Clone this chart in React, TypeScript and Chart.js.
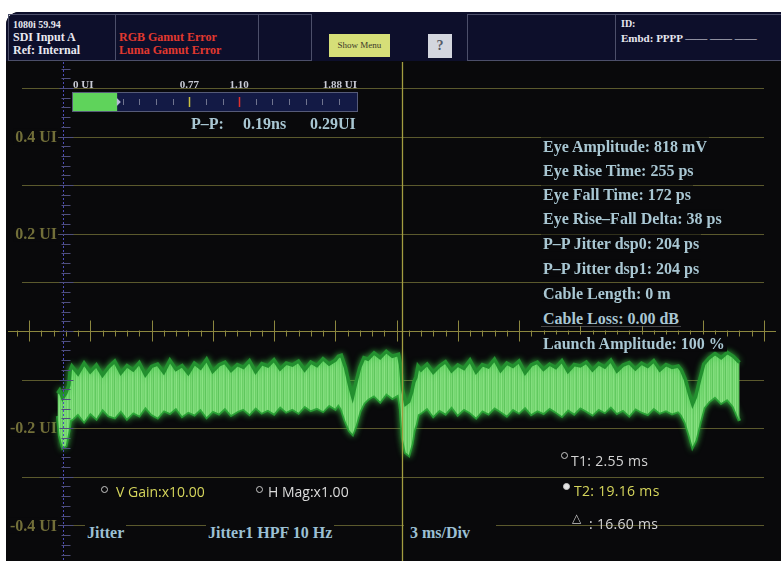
import React, { useEffect, useRef } from "react";
import { Chart, registerables } from "chart.js";

Chart.register(...registerables);

// ---------- data ----------
// time in ms, jitter in UI
const timeMs = [
  2.3, 2.4, 2.55, 2.7, 2.85, 2.92,
  3.0, 3.3, 3.6, 3.9, 4.2, 4.5, 4.8, 5.1, 5.4, 5.7, 6.0, 6.3, 6.6, 6.9, 7.2, 7.5, 7.8, 8.1, 8.4, 8.7, 9.0, 9.3,
  9.6, 9.9, 10.2, 10.5, 10.8, 11.1, 11.4, 11.7, 12.0, 12.3, 12.6, 12.9, 13.2, 13.5, 13.8, 14.1, 14.4, 14.7, 15.0,
  15.3, 15.6, 15.9,
  16.05, 16.2, 16.4, 16.6, 16.75, 16.9, 17.1, 17.3,
  17.5, 17.8, 18.1, 18.4, 18.7, 19.0,
  19.1, 19.2, 19.35, 19.5, 19.65, 19.75, 19.85, 19.95,
  20.1, 20.4, 20.7, 21.0, 21.3, 21.6, 21.9, 22.2, 22.5, 22.8, 23.1, 23.4, 23.7, 24.0, 24.3, 24.6, 24.9, 25.2,
  25.5, 25.8, 26.1, 26.4, 26.7, 27.0, 27.3, 27.6, 27.9, 28.2, 28.5, 28.8, 29.1, 29.4, 29.7, 30.0, 30.3, 30.6,
  30.9, 31.2, 31.5, 31.8, 32.1, 32.4, 32.7,
  32.85, 33.05, 33.25, 33.4, 33.55, 33.75, 33.95,
  34.2, 34.5, 34.8, 35.1, 35.4, 35.7,
];

const upperUI = [
  -0.128, -0.122, -0.138, -0.128, -0.112, -0.08,
  -0.072, -0.088, -0.066, -0.084, -0.07, -0.091, -0.074, -0.062, -0.086, -0.071,
  -0.08, -0.065, -0.09, -0.073, -0.068, -0.085, -0.06, -0.079, -0.071, -0.087,
  -0.066, -0.076, -0.058, -0.083, -0.07, -0.064, -0.081, -0.069, -0.075, -0.061,
  -0.084, -0.067, -0.072, -0.059, -0.078, -0.066, -0.07, -0.062, -0.08, -0.064,
  -0.071, -0.057, -0.068, -0.06,
  -0.052, -0.05, -0.075, -0.112, -0.135, -0.108, -0.075, -0.055,
  -0.058, -0.045, -0.055, -0.042, -0.052, -0.048,
  -0.07, -0.12, -0.15, -0.145, -0.125, -0.105, -0.095, -0.072,
  -0.08, -0.068, -0.085, -0.072, -0.063, -0.082, -0.07, -0.077, -0.06, -0.084,
  -0.069, -0.074, -0.058, -0.081, -0.066, -0.073, -0.062, -0.086, -0.07, -0.064,
  -0.079, -0.068, -0.075, -0.061, -0.083, -0.069, -0.072, -0.064, -0.08, -0.067,
  -0.074, -0.06, -0.082, -0.07, -0.065, -0.078, -0.066, -0.073, -0.061, -0.08,
  -0.069, -0.075, -0.072,
  -0.08, -0.1, -0.13, -0.15, -0.135, -0.1, -0.068,
  -0.056, -0.046, -0.055, -0.044, -0.052, -0.065,
];

const lowerUI = [
  -0.175, -0.215, -0.24, -0.236, -0.205, -0.182,
  -0.182, -0.17, -0.186, -0.168, -0.18, -0.16, -0.174, -0.178, -0.163, -0.18,
  -0.167, -0.174, -0.156, -0.171, -0.178, -0.163, -0.169, -0.158, -0.175, -0.166,
  -0.172, -0.16, -0.177, -0.164, -0.17, -0.158, -0.173, -0.165, -0.16, -0.171,
  -0.157, -0.168, -0.162, -0.17, -0.155, -0.166, -0.16, -0.168, -0.154, -0.163,
  -0.158, -0.165, -0.152, -0.16,
  -0.15, -0.16, -0.185, -0.205, -0.212, -0.195, -0.165, -0.148,
  -0.14, -0.132, -0.145, -0.128, -0.138, -0.13,
  -0.16, -0.22, -0.25, -0.255, -0.232, -0.205, -0.192, -0.172,
  -0.168, -0.158, -0.175, -0.162, -0.17, -0.155, -0.172, -0.16, -0.167, -0.178,
  -0.163, -0.17, -0.157, -0.165, -0.174, -0.16, -0.168, -0.156, -0.171, -0.163,
  -0.169, -0.158, -0.166, -0.175, -0.161, -0.17, -0.157, -0.164, -0.172, -0.16,
  -0.167, -0.155, -0.169, -0.162, -0.174, -0.159, -0.166, -0.171, -0.158, -0.168,
  -0.163, -0.17, -0.165,
  -0.172, -0.188, -0.215, -0.238, -0.225, -0.19, -0.158,
  -0.145, -0.135, -0.148, -0.14, -0.155, -0.185,
];

const gridUI = [0.5, 0.4, 0.3, 0.2, 0.1, -0.1, -0.2, -0.3, -0.4];
const yTickValues = [0.4, 0.2, -0.2, -0.4];
const yTickLabels = ["0.4 UI", "0.2 UI", "-0.2 UI", "-0.4 UI"];

const xMinMs = 0.9;
const xMaxMs = 36.9;
const msPerDiv = 3;
const minorPerDiv = 5;
const cursorT1 = 2.55;
const cursorT2 = 19.16;

const meterMax = 1.88;
const meterValue = 0.29;
const meterTicks = [0.33, 0.44, 0.55, 0.66, 0.88, 0.99, 1.21, 1.32, 1.43, 1.54, 1.65, 1.76];
const meterMarkWarn = 0.77;
const meterMarkErr = 1.1;
const meterLabels = ["0 UI", "0.77", "1.10", "1.88 UI"];

const measureLabels = [
  "Eye Amplitude: 818 mV",
  "Eye Rise Time: 255 ps",
  "Eye Fall Time: 172 ps",
  "Eye Rise\u2013Fall Delta: 38 ps",
  "P\u2013P Jitter dsp0: 204 ps",
  "P\u2013P Jitter dsp1: 204 ps",
  "Cable Length: 0 m",
  "Cable Loss: 0.00 dB",
  "Launch Amplitude: 100 %",
];

// ---------- styles ----------
const SERIF = '"Liberation Serif", "Times New Roman", serif';
const SANS = '"Open Sans", "Noto Sans", sans-serif';
const PANEL_BG = "#09090b";
const TEXT_BLUE = "#a9c7d3";
// phosphor texture colours for the trace fill (style only)
const STRIPES = [
  "#7ad975", "#6fd26b", "#86e081", "#74d670", "#62c960", "#80dc7b", "#71d46d",
  "#8ae384", "#6acf66", "#7bd976", "#5fc65d", "#83de7e", "#76d772",
];

const txt = (left: number, cy: number, extra: React.CSSProperties = {}): React.CSSProperties => ({
  position: "absolute",
  left,
  top: cy,
  transform: "translateY(-50%)",
  whiteSpace: "nowrap",
  lineHeight: 1,
  ...extra,
});

const makeStripePattern = (): CanvasPattern | string => {
  const c = document.createElement("canvas");
  c.width = STRIPES.length;
  c.height = 4;
  const g = c.getContext("2d");
  if (!g) return STRIPES[0];
  STRIPES.forEach((col, i) => {
    g.fillStyle = col;
    g.fillRect(i, 0, 1, 4);
  });
  return g.createPattern(c, "repeat") || STRIPES[0];
};

const scopePlugin = {
  id: "scope",
  beforeDatasetsDraw(chart: any) {
    const { ctx, scales } = chart;
    const x = scales.x;
    const y = scales.y;
    ctx.save();
    ctx.lineWidth = 1;
    // horizontal graticule
    ctx.strokeStyle = "#5b592d";
    gridUI.forEach((v) => {
      const py = Math.round(y.getPixelForValue(v)) + 0.5;
      ctx.beginPath();
      ctx.moveTo(x.left - 7, py);
      ctx.lineTo(x.right, py);
      ctx.stroke();
    });
    // zero line with time ticks
    const y0 = Math.round(y.getPixelForValue(0)) + 0.5;
    ctx.strokeStyle = "#8c873f";
    ctx.beginPath();
    ctx.moveTo(8, y0);
    ctx.lineTo(x.right + 12, y0);
    ctx.stroke();
    const minorStep = msPerDiv / minorPerDiv;
    for (let k = -3; k <= 63; k++) {
      const px = Math.round(x.getPixelForValue(xMinMs + k * minorStep)) + 0.5;
      if (px < 8 || px > x.right + 12) continue;
      ctx.beginPath();
      if (k % minorPerDiv === 0) {
        ctx.moveTo(px, y0 - 11);
        ctx.lineTo(px, y0 + 10);
      } else {
        ctx.moveTo(px, y0 - 1);
        ctx.lineTo(px, y0 + 5);
      }
      ctx.stroke();
    }
    // y tick labels
    ctx.font = `bold 16px ${SERIF}`;
    ctx.textAlign = "right";
    ctx.textBaseline = "middle";
    yTickValues.forEach((v, i) => {
      const py = y.getPixelForValue(v);
      const w = ctx.measureText(yTickLabels[i]).width;
      ctx.fillStyle = PANEL_BG;
      ctx.fillRect(57 - w - 2, py - 8, w + 3, 16);
      ctx.fillStyle = "#726f39";
      ctx.fillText(yTickLabels[i], 57, py + 1);
    });
    ctx.restore();
    // glow for the waveform
    ctx.save();
    ctx.shadowColor = "rgba(60, 200, 70, 0.75)";
    ctx.shadowBlur = 6;
  },
  afterDatasetsDraw(chart: any) {
    const { ctx, scales } = chart;
    const x = scales.x;
    const y = scales.y;
    ctx.restore();
    ctx.save();
    // T1 cursor (dotted blue) with vertical scale ticks
    const p1 = Math.round(x.getPixelForValue(cursorT1)) + 0.5;
    ctx.strokeStyle = "#4b4bb8";
    ctx.lineWidth = 1;
    ctx.setLineDash([2, 2]);
    ctx.beginPath();
    ctx.moveTo(p1, 62);
    ctx.lineTo(p1, 561);
    ctx.stroke();
    ctx.setLineDash([]);
    ctx.strokeStyle = "#4f4f7c";
    for (let i = -24; i <= 27; i++) {
      const py = Math.round(y.getPixelForValue(i * 0.02)) + 0.5;
      if (py < 64 || py > 561) continue;
      ctx.beginPath();
      if (i % 5 === 0) {
        ctx.moveTo(p1 - 4, py);
        ctx.lineTo(p1 + 10, py);
      } else {
        ctx.moveTo(p1 - 2, py);
        ctx.lineTo(p1 + 7, py);
      }
      ctx.stroke();
    }
    // T2 cursor (active, yellow)
    const p2 = Math.round(x.getPixelForValue(cursorT2)) + 0.5;
    ctx.strokeStyle = "#a29d40";
    ctx.lineWidth = 1.3;
    ctx.beginPath();
    ctx.moveTo(p2, 62);
    ctx.lineTo(p2, 561);
    ctx.stroke();
    ctx.restore();
  },
};

const meterPlugin = {
  id: "meterTicks",
  afterDatasetsDraw(chart: any) {
    const { ctx, scales } = chart;
    const x = scales.x;
    const h = chart.height;
    ctx.save();
    ctx.lineWidth = 1;
    ctx.strokeStyle = "#70748f";
    meterTicks.forEach((v) => {
      const px = Math.round(x.getPixelForValue(v)) + 0.5;
      ctx.beginPath();
      ctx.moveTo(px, h / 2 - 3);
      ctx.lineTo(px, h / 2 + 3);
      ctx.stroke();
    });
    const mark = (v: number, c: string) => {
      const px = Math.round(x.getPixelForValue(v)) + 0.5;
      ctx.strokeStyle = c;
      ctx.lineWidth = 1.5;
      ctx.beginPath();
      ctx.moveTo(px, h / 2 - 5);
      ctx.lineTo(px, h / 2 + 5);
      ctx.stroke();
    };
    mark(meterMarkWarn, "#c9c040");
    mark(meterMarkErr, "#e0302c");
    const pe = x.getPixelForValue(meterValue);
    ctx.fillStyle = "#b8b8d8";
    ctx.beginPath();
    ctx.moveTo(pe, h / 2 - 4);
    ctx.lineTo(pe + 4, h / 2);
    ctx.lineTo(pe, h / 2 + 4);
    ctx.closePath();
    ctx.fill();
    ctx.restore();
  },
};

const METER_L = 73;
const METER_W = 284;
const meterPx = (v: number) => METER_L + (v / meterMax) * METER_W;

export default function App() {
  const mainRef = useRef<HTMLCanvasElement>(null);
  const meterRef = useRef<HTMLCanvasElement>(null);

  useEffect(() => {
    const pts = (ys: number[]) => timeMs.map((t, i) => ({ x: t, y: ys[i] }));
    const stripe = makeStripePattern();
    const main = new Chart(mainRef.current as HTMLCanvasElement, {
      type: "line",
      data: {
        datasets: [
          {
            label: "upper",
            data: pts(upperUI),
            fill: "+1",
            backgroundColor: stripe,
            borderColor: "#23902f",
            borderWidth: 3.5,
            pointRadius: 0,
            tension: 0,
          },
          {
            label: "lower",
            data: pts(lowerUI),
            fill: false,
            borderColor: "#23902f",
            borderWidth: 3.5,
            pointRadius: 0,
            tension: 0,
          },
        ],
      },
      options: {
        responsive: false,
        animation: false,
        events: [],
        layout: { padding: { left: 29, right: 17, top: 88, bottom: 0 } },
        plugins: { legend: { display: false }, tooltip: { enabled: false } },
        scales: {
          x: { type: "linear", min: xMinMs, max: xMaxMs, display: false },
          y: { type: "linear", min: -0.4733, max: 0.5, display: false },
        },
      },
      plugins: [scopePlugin],
    } as any);

    const meter = new Chart(meterRef.current as HTMLCanvasElement, {
      type: "bar",
      data: {
        labels: ["P-P"],
        datasets: [
          {
            data: [meterValue],
            backgroundColor: "#5fd35b",
            borderWidth: 0,
            barPercentage: 1,
            categoryPercentage: 1,
          },
        ],
      },
      options: {
        indexAxis: "y",
        responsive: false,
        animation: false,
        events: [],
        layout: { padding: 0 },
        plugins: { legend: { display: false }, tooltip: { enabled: false } },
        scales: {
          x: { type: "linear", min: 0, max: meterMax, display: false },
          y: { display: false },
        },
      },
      plugins: [meterPlugin],
    } as any);

    return () => {
      main.destroy();
      meter.destroy();
    };
  }, []);

  const cell = (left: number, width: number): React.CSSProperties => ({
    position: "absolute",
    left,
    top: 14,
    width,
    height: 47,
    border: "1px solid #4c4f6a",
    boxSizing: "border-box",
  });

  const whiteHdr: React.CSSProperties = { color: "#e8e8f0", fontFamily: SERIF, fontWeight: "bold" };
  const measureY = [146, 170, 194, 218, 243, 268, 293, 318, 343];
  const circle = (cx: number, cy: number, filled: boolean): React.CSSProperties => ({
    position: "absolute",
    left: cx - 3.5,
    top: cy - 3.5,
    width: 7,
    height: 7,
    borderRadius: "50%",
    boxSizing: "border-box",
    border: "1.3px solid #c8c8c8",
    background: filled ? "#e4e4e4" : "transparent",
  });

  return (
    <div
      style={{
        position: "absolute",
        left: 0,
        top: 0,
        width: 781,
        height: 561,
        background: "#ffffff",
        overflow: "hidden",
      }}
    >
      {/* instrument panel */}
      <div
        style={{
          position: "absolute",
          left: 6,
          top: 12,
          width: 800,
          height: 580,
          background: PANEL_BG,
          borderRadius: 13,
        }}
      />
      <div
        style={{
          position: "absolute",
          left: 6,
          top: 12,
          width: 800,
          height: 49,
          background: "#0d0f2b",
          borderRadius: "13px 13px 0 0",
        }}
      />
      <div style={cell(8, 108)} />
      <div style={cell(115, 144)} />
      <div style={cell(258, 54)} />
      <div style={cell(467, 149)} />
      <div style={cell(615, 180)} />

      <div style={txt(13, 25, { ...whiteHdr, fontSize: 10 })}>1080i 59.94</div>
      <div style={txt(13, 37, { ...whiteHdr, fontSize: 12 })}>SDI Input A</div>
      <div style={txt(13, 50, { ...whiteHdr, fontSize: 12 })}>Ref: Internal</div>
      <div style={txt(119, 37, { color: "#e2392f", fontFamily: SERIF, fontWeight: "bold", fontSize: 12 })}>
        RGB Gamut Error
      </div>
      <div style={txt(119, 50, { color: "#e2392f", fontFamily: SERIF, fontWeight: "bold", fontSize: 12 })}>
        Luma Gamut Error
      </div>
      <div
        style={{
          position: "absolute",
          left: 329,
          top: 34,
          width: 61,
          height: 23,
          background: "#d6df78",
          color: "#3a3a2a",
          fontFamily: SERIF,
          fontSize: 9,
          lineHeight: "23px",
          textAlign: "center",
        }}
      >
        Show Menu
      </div>
      <div
        style={{
          position: "absolute",
          left: 428,
          top: 34,
          width: 24,
          height: 24,
          background: "#d3d6de",
          color: "#555a66",
          fontFamily: SERIF,
          fontWeight: "bold",
          fontSize: 14,
          lineHeight: "24px",
          textAlign: "center",
        }}
      >
        ?
      </div>
      <div style={txt(621, 24, { ...whiteHdr, fontSize: 10 })}>ID:</div>
      <div style={txt(621, 38, { ...whiteHdr, fontSize: 11 })}>
        Embd: PPPP &mdash;&mdash; &mdash;&mdash; &mdash;&mdash;
      </div>

      {/* main scope canvas */}
      <canvas
        ref={mainRef}
        width={781}
        height={561}
        style={{ position: "absolute", left: 0, top: 0, width: 781, height: 561 }}
      />

      {/* jitter meter */}
      <div
        style={{
          position: "absolute",
          left: 72,
          top: 92,
          width: 286,
          height: 20,
          background: "#131a45",
          border: "1px solid #565b78",
          boxSizing: "border-box",
        }}
      />
      <canvas
        ref={meterRef}
        width={METER_W}
        height={18}
        style={{ position: "absolute", left: METER_L, top: 93, width: METER_W, height: 18 }}
      />
      {[0, meterMarkWarn, meterMarkErr, meterMax].map((v, i) => {
        const base: React.CSSProperties = {
          color: "#c9cbd6",
          fontFamily: SERIF,
          fontWeight: "bold",
          fontSize: 11,
        };
        if (i === 0) return <div key={i} style={txt(meterPx(v), 84, base)}>{meterLabels[i]}</div>;
        if (i === 3)
          return (
            <div key={i} style={txt(meterPx(v), 84, { ...base, transform: "translate(-100%, -50%)" })}>
              {meterLabels[i]}
            </div>
          );
        return (
          <div key={i} style={txt(meterPx(v), 84, { ...base, transform: "translate(-50%, -50%)" })}>
            {meterLabels[i]}
          </div>
        );
      })}
      <div style={txt(191, 124, { color: TEXT_BLUE, fontFamily: SERIF, fontWeight: "bold", fontSize: 16 })}>
        P&ndash;P:
      </div>
      <div style={txt(243, 124, { color: TEXT_BLUE, fontFamily: SERIF, fontWeight: "bold", fontSize: 16 })}>
        0.19ns
      </div>
      <div style={txt(310, 124, { color: TEXT_BLUE, fontFamily: SERIF, fontWeight: "bold", fontSize: 16 })}>
        0.29UI
      </div>

      {/* measurements */}
      {measureLabels.map((s, i) => (
        <div
          key={s}
          style={txt(541, measureY[i], {
            color: TEXT_BLUE,
            fontFamily: SERIF,
            fontWeight: "bold",
            fontSize: 16,
            lineHeight: "17px",
            background: PANEL_BG,
            padding: "0 2px",
          })}
        >
          {s}
        </div>
      ))}

      {/* gain / mag */}
      <div style={circle(104, 489, false)} />
      <div style={txt(116, 492, { color: "#d6d65c", fontFamily: SANS, fontSize: 14 })}>V Gain:x10.00</div>
      <div style={circle(259, 489, false)} />
      <div style={txt(268, 492, { color: "#dcdcdc", fontFamily: SANS, fontSize: 14 })}>H Mag:x1.00</div>

      {/* cursor readouts */}
      <div style={circle(564, 455, false)} />
      <div style={txt(571, 461, { color: "#d4d4d4", fontFamily: SANS, fontSize: 14, letterSpacing: 0.3 })}>
        T1: 2.55 ms
      </div>
      <div style={circle(566, 486, true)} />
      <div style={txt(574, 491, { color: "#d6d65c", fontFamily: SANS, fontSize: 14, letterSpacing: 0.3 })}>
        T2: 19.16 ms
      </div>
      <div style={txt(572, 518, { color: "#cccccc", fontFamily: '"DejaVu Sans", sans-serif', fontSize: 12 })}>
        &#9651;
      </div>
      <div style={txt(589, 524, { color: "#d4d4d4", fontFamily: SANS, fontSize: 14, letterSpacing: 0.3 })}>
        : 16.60 ms
      </div>

      {/* bottom labels */}
      <div
        style={txt(85, 533, {
          color: "#9cc0d4",
          fontFamily: SERIF,
          fontWeight: "bold",
          fontSize: 16,
          lineHeight: "26px",
          background: PANEL_BG,
          padding: "0 2px",
        })}
      >
        Jitter
      </div>
      <div
        style={txt(206, 533, {
          color: "#9cc0d4",
          fontFamily: SERIF,
          fontWeight: "bold",
          fontSize: 16,
          lineHeight: "26px",
          background: PANEL_BG,
          padding: "0 2px",
        })}
      >
        Jitter1 HPF 10 Hz
      </div>
      <div
        style={txt(404, 533, {
          color: "#9cc0d4",
          fontFamily: SERIF,
          fontWeight: "bold",
          fontSize: 16,
          lineHeight: "26px",
          background: PANEL_BG,
          padding: "0 26px 0 6px",
        })}
      >
        3 ms/Div
      </div>
    </div>
  );
}
